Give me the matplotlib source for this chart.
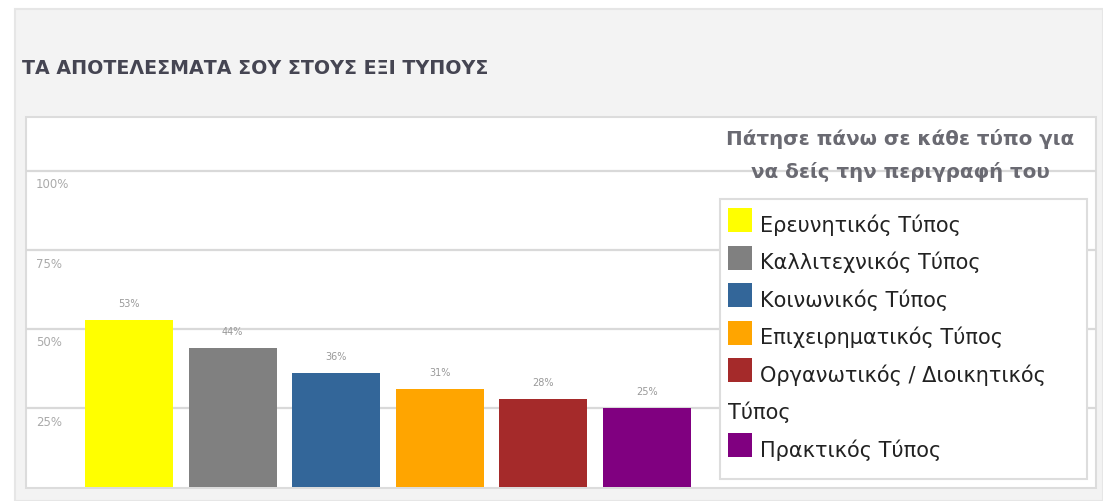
import matplotlib
matplotlib.use("Agg")
import matplotlib.pyplot as plt
from matplotlib.patches import Rectangle

# ---- data ----
categories = ["Ερευνητικός Τύπος", "Καλλιτεχνικός Τύπος", "Κοινωνικός Τύπος",
              "Επιχειρηματικός Τύπος", "Οργανωτικός / Διοικητικός\nΤύπος", "Πρακτικός Τύπος"]
values = [53, 44, 36, 31, 28, 25]
colors = ["#ffff00", "#808080", "#336699", "#ffa500", "#a52a2a", "#800080"]
yticks = [25, 50, 75, 100]
ytick_labels = ["25%", "50%", "75%", "100%"]
title = "ΤΑ ΑΠΟΤΕΛΕΣΜΑΤΑ ΣΟΥ ΣΤΟΥΣ ΕΞΙ ΤΥΠΟΥΣ"
legend_title = "Πάτησε πάνω σε κάθε τύπο για\nνα δείς την περιγραφή του"

W, H = 1103, 502
fig = plt.figure(figsize=(W / 100, H / 100), dpi=100)
fig.patch.set_facecolor("white")

def fx(x):
    return x / W

def fy(y):
    return 1 - y / H

# outer gray box
fig.patches.append(Rectangle((fx(15), fy(502)), fx(1103 - 15), (502 - 10) / H,
                             transform=fig.transFigure, facecolor="#f3f3f3",
                             edgecolor="#e6e6e6", linewidth=1.5, zorder=-2))
# white panel
fig.patches.append(Rectangle((fx(26), fy(489)), fx(1096 - 26), (489 - 118) / H,
                             transform=fig.transFigure, facecolor="white",
                             edgecolor="#dcdcdc", linewidth=1.5, zorder=-1))

fig.text(fx(22), fy(69), title, fontsize=13.7, fontweight="bold", color="#454552",
         va="center", ha="left")

# axes: baseline at y=488, 100% at y=172
ax = fig.add_axes([fx(26), fy(488), fx(1096 - 26), (488 - 118) / H])
ax.set_zorder(1)
ax.patch.set_alpha(0)
px_per_unit = 103.6
x0 = 129
ax.set_xlim((26 - x0) / px_per_unit, (1096 - x0) / px_per_unit)
ax.set_ylim(0, (488 - 118) / 316 * 100)
for s in ax.spines.values():
    s.set_visible(False)
ax.set_xticks([])
ax.set_yticks([])

for t, lab in zip(yticks, ytick_labels):
    ax.axhline(t, color="#d9d9d9", linewidth=1.6, zorder=1)
    ax.annotate(lab, xy=(0, t), xycoords=("axes fraction", "data"),
                xytext=(10, -13), textcoords="offset pixels",
                fontsize=8.5, color="#aaaaaa", ha="left", va="center")

xs = list(range(len(values)))
bars = ax.bar(xs, values, width=0.85, color=colors, zorder=2)
for x, v in zip(xs, values):
    ax.annotate(f"{v}%", xy=(x, v), xytext=(0, 17), textcoords="offset pixels",
                ha="center", va="center", fontsize=7, color="#999999")

# legend title
fig.text(fx(900), fy(155.5), legend_title, fontsize=14.3, fontweight="bold", color="#6a6a72",
         ha="center", va="center", linespacing=1.78, zorder=5)

# legend box
fig.patches.append(Rectangle((fx(720), fy(480)), fx(1087 - 720), (480 - 200) / H,
                             transform=fig.transFigure, facecolor="white",
                             edgecolor="#dddddd", linewidth=1.5, zorder=3))
row = 0
row_h = 37.5
y_first = 225
for lab, c in zip(categories, colors):
    yc = y_first + row * row_h
    fig.patches.append(Rectangle((fx(728), fy(yc + 8)), fx(24), 24 / H,
                                 transform=fig.transFigure, facecolor=c,
                                 edgecolor="none", zorder=4))
    lines = lab.split("\n")
    fig.text(fx(760), fy(yc), lines[0], fontsize=15, color="#222222",
             ha="left", va="center", zorder=5)
    for extra in lines[1:]:
        row += 1
        yc = y_first + row * row_h
        fig.text(fx(728), fy(yc), extra, fontsize=15, color="#222222",
                 ha="left", va="center", zorder=5)
    row += 1

fig.savefig("out.png", dpi=100)
